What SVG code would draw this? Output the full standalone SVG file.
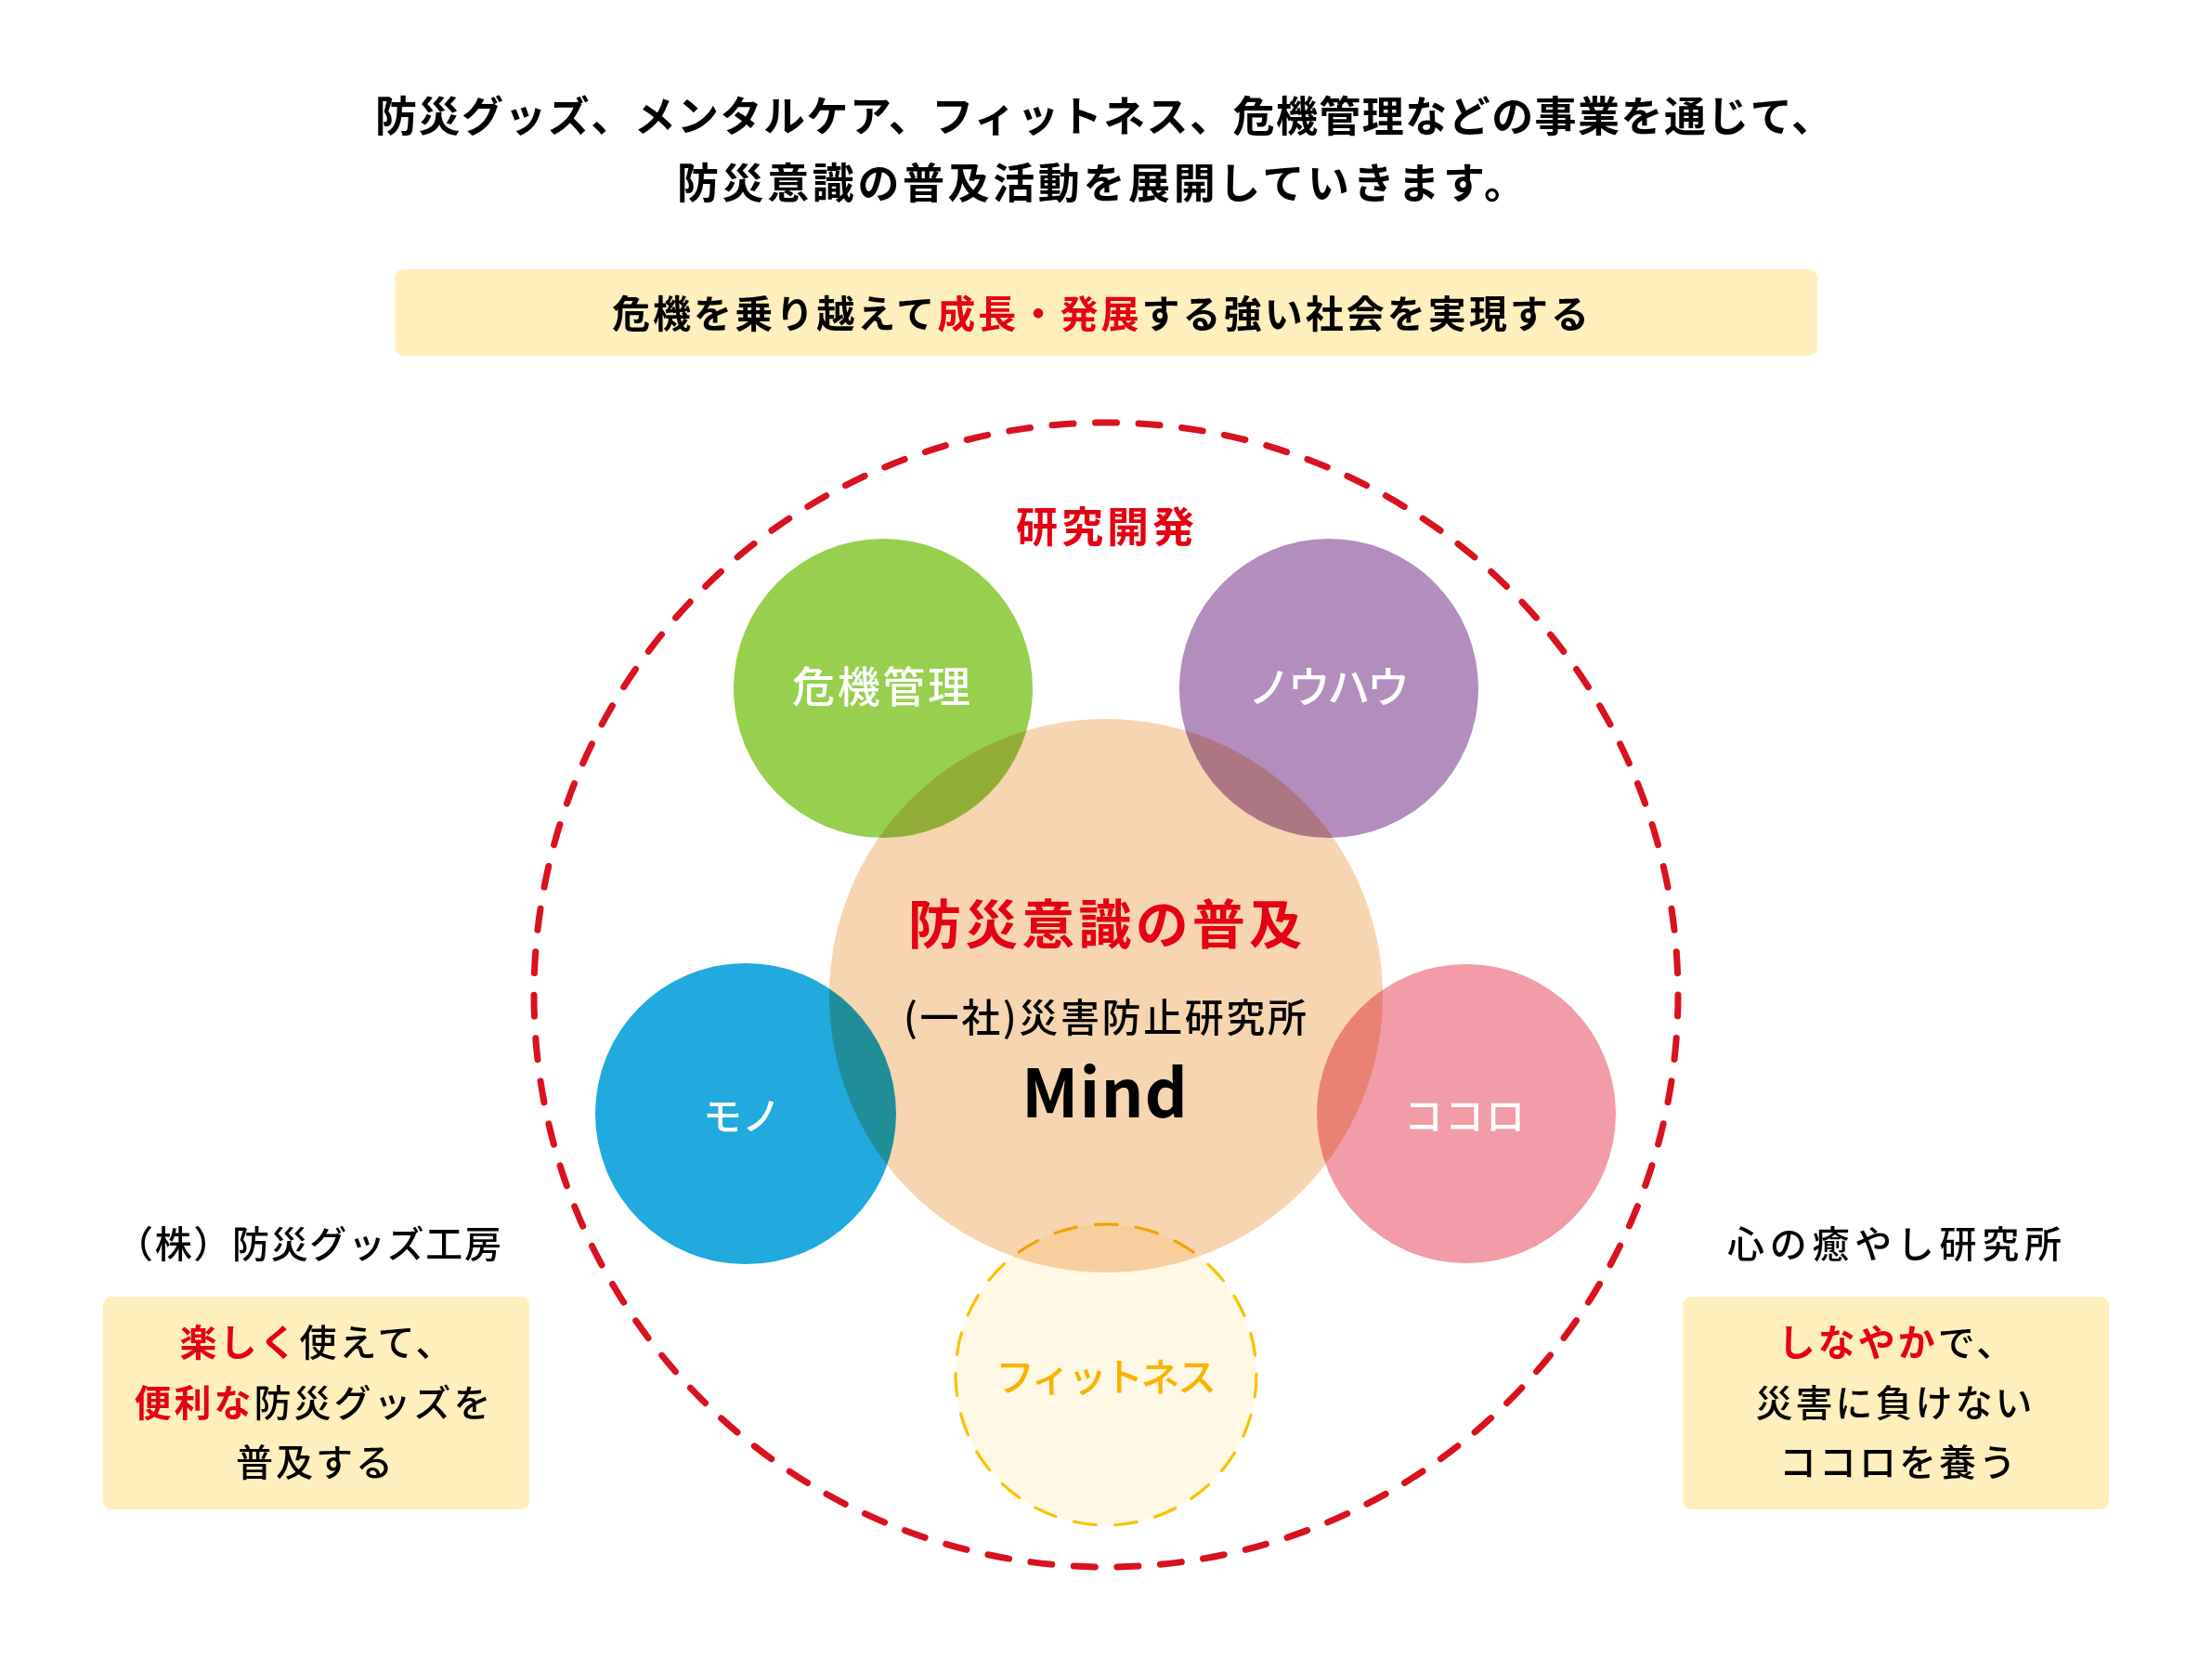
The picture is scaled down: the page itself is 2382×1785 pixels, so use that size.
<svg xmlns="http://www.w3.org/2000/svg" width="2382" height="1785" viewBox="0 0 2382 1785">
<defs>
<style>
text{font-family:"Noto Sans CJK JP","Noto Sans",sans-serif;dominant-baseline:central}
.b{font-weight:700}
.m{font-weight:500}
.k{fill:#000}
.r{fill:#E50012}
.w{fill:#fff}
.note{fill:#FEEFBC}
.blend{mix-blend-mode:multiply}
</style>
</defs>
<rect width="2382" height="1785" fill="#fff"/>

<g id="intro">
<text class="b k" x="404" y="122" font-size="45" textLength="1570" lengthAdjust="spacing">防災グッズ、メンタルケア、フィットネス、危機管理などの事業を通じて、</text>
<text class="b k" x="729" y="194" font-size="45" textLength="914" lengthAdjust="spacing">防災意識の普及活動を展開していきます。</text>
</g>

<g id="banner">
<rect class="note" x="425" y="290" width="1532" height="93" rx="9"/>
<text class="b k" x="659" y="335" font-size="41" textLength="1052" lengthAdjust="spacing">危機を乗り越えて<tspan class="r">成長・発展</tspan>する強い社会を実現する</text>
</g>

<g id="research">
<circle cx="1191" cy="1071" r="616" fill="none" stroke="#D9121F" stroke-width="7" stroke-linecap="round" stroke-dasharray="23 23.63"/>
<text class="b r" x="1094" y="564" font-size="45" textLength="192" lengthAdjust="spacing">研究開発</text>
</g>

<g id="mind">
<circle cx="1191" cy="1072" r="298" fill="#F7D5B0"/>
</g>

<g id="kiki">
<circle class="blend" cx="951" cy="741" r="161" fill="#97CF4F"/>
</g>
<g id="knowhow">
<circle class="blend" cx="1431" cy="741" r="161" fill="#B38DBD"/>
</g>
<g id="mono">
<circle class="blend" cx="803" cy="1199" r="162" fill="#20AADD"/>
</g>
<g id="kokoro">
<circle class="blend" cx="1579" cy="1199" r="161" fill="#F19CA7"/>
</g>
<g id="fitness">
<circle class="blend" cx="1191" cy="1480" r="162" fill="#FFF8E4" stroke="#FBC100" stroke-width="3.2" stroke-linecap="round" stroke-dasharray="24 20.2"/>
</g>

<g id="labels">
<text class="m w" x="853" y="736" font-size="46" textLength="192" lengthAdjust="spacing">危機管理</text>
<text class="m w" x="1344" y="736" font-size="46" textLength="174" lengthAdjust="spacing">ノウハウ</text>
<text class="m w" x="757" y="1198" font-size="42" textLength="84" lengthAdjust="spacing">モノ</text>
<text class="m w" x="1512" y="1198" font-size="42" textLength="130" lengthAdjust="spacing">ココロ</text>
<text class="m" fill="#F8B400" x="1072" y="1479" font-size="42" textLength="238" lengthAdjust="spacing">フィットネス</text>
<text class="b r" x="978" y="991" font-size="57" textLength="424" lengthAdjust="spacing">防災意識の普及</text>
<text class="m k" x="973" y="1092" font-size="42" textLength="434" lengthAdjust="spacing">(一社)災害防止研究所</text>
<text x="1190" y="1203" font-family="Liberation Sans, Arial, sans-serif" font-weight="700" font-size="72" text-anchor="middle" style="dominant-baseline:alphabetic" letter-spacing="1">Mind</text>
</g>

<g id="goods">
<text class="m k" x="125" y="1337" font-size="40" textLength="415" lengthAdjust="spacing">（株）防災グッズ工房</text>
<rect class="note" x="111" y="1396" width="459" height="229" rx="9"/>
<g class="m k" font-size="40" letter-spacing="3" text-anchor="middle">
<text x="342" y="1443"><tspan class="b r">楽しく</tspan>使えて、</text>
<text x="338" y="1508"><tspan class="b r">便利な</tspan>防災グッズを</text>
<text x="340" y="1572">普及する</text>
</g>
</g>

<g id="healing">
<text class="m k" x="1860" y="1337" font-size="40" textLength="360" lengthAdjust="spacing">心の癒やし研究所</text>
<rect class="note" x="1812" y="1396" width="459" height="229" rx="9"/>
<g class="m k" font-size="40" letter-spacing="3" text-anchor="middle">
<text x="2043" y="1443"><tspan class="b r">しなやか</tspan>で、</text>
<text x="2041" y="1508">災害に負けない</text>
<text x="2045" y="1572">ココロを養う</text>
</g>
</g>

<g id="connectors"/>
</svg>
